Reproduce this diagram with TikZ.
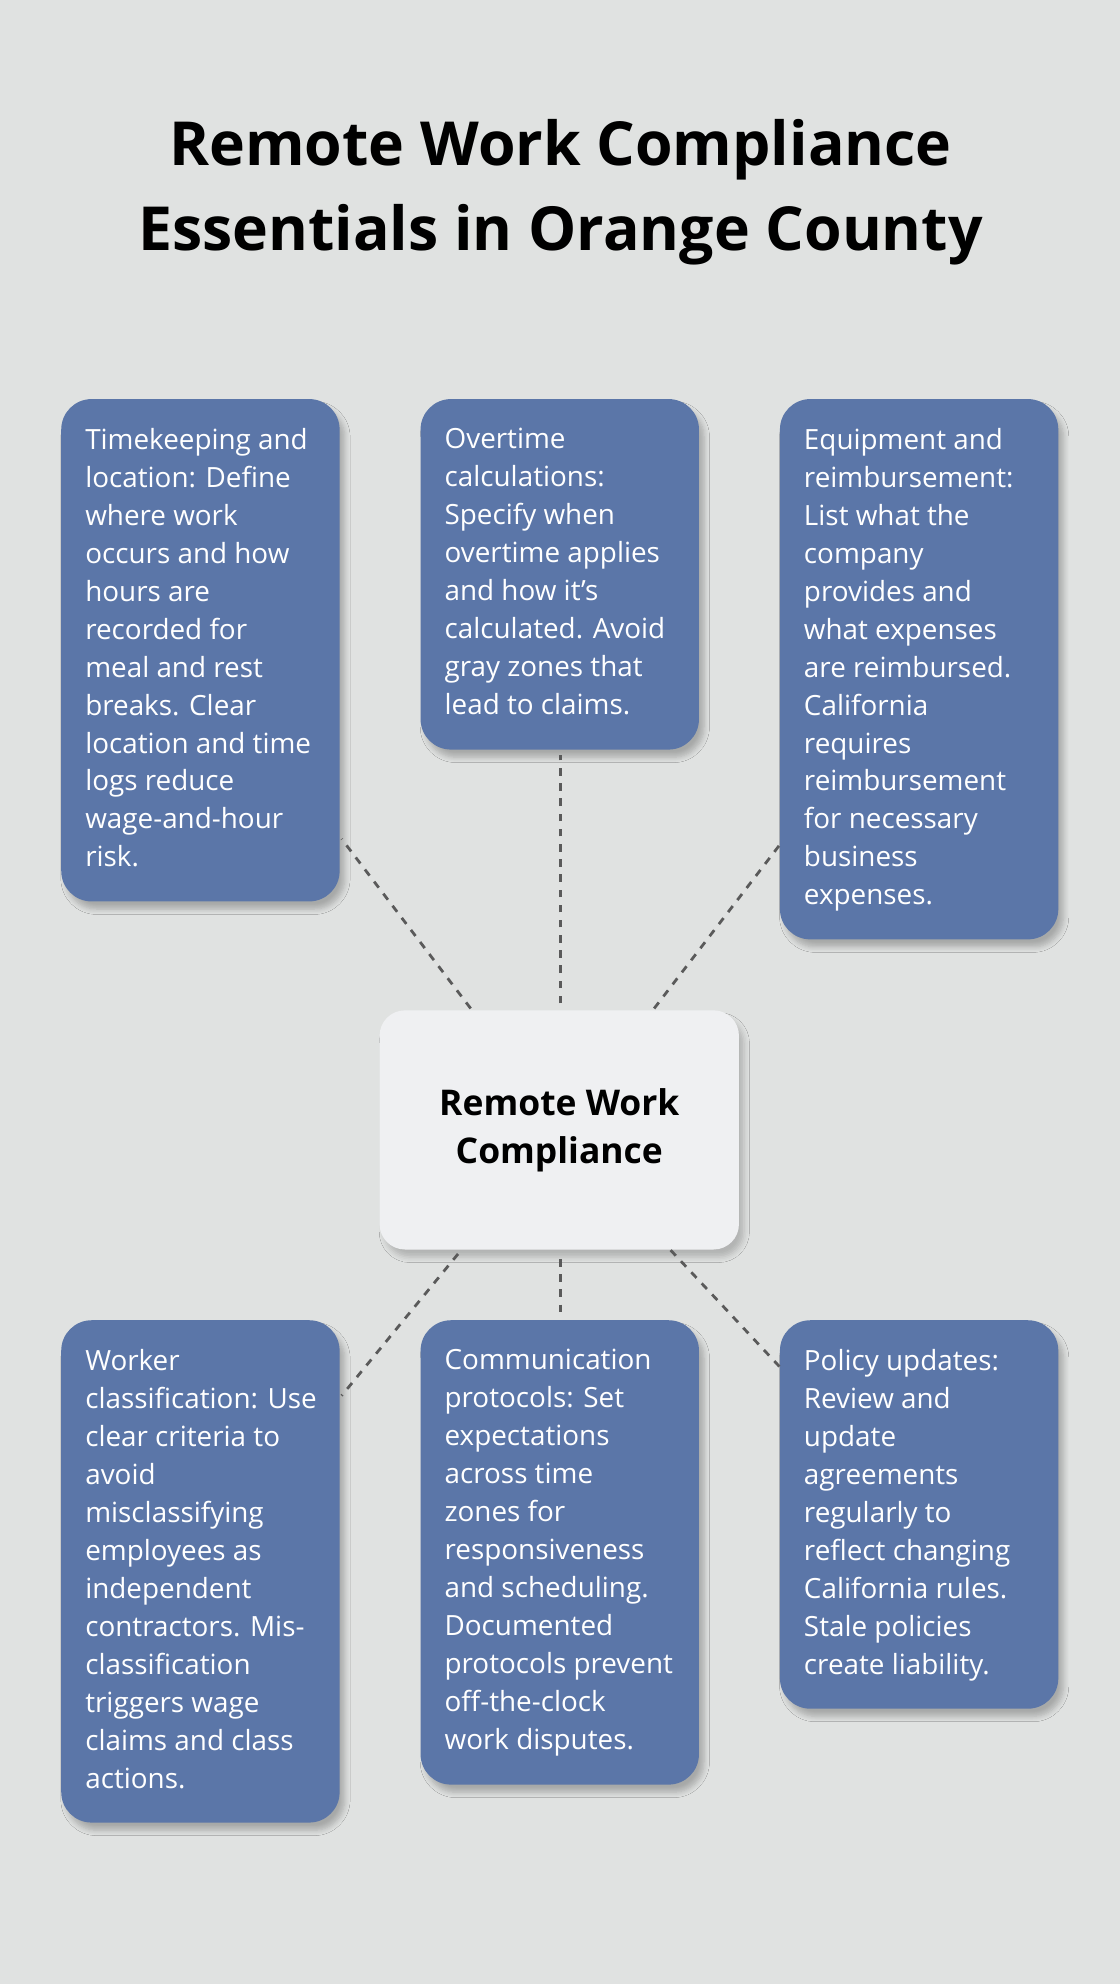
\documentclass[tikz,border=0pt]{standalone}
\usepackage{fontspec}
\setmainfont{Open Sans}
\usetikzlibrary{positioning,shadows.blur}
\definecolor{bgcol}{HTML}{E0E2E1}
\definecolor{boxcol}{HTML}{5B76A8}
\definecolor{hubcol}{HTML}{EFF0F2}
\definecolor{linecol}{HTML}{5A5A5A}
\tikzset{
  card/.style={draw=none,fill=boxcol,rounded corners=12pt,inner sep=0pt,
    minimum width=110pt,blur shadow={shadow xshift=2pt,shadow yshift=-3pt,shadow opacity=25,shadow blur steps=6}},
  cardtext/.style={anchor=north west,inner sep=0pt,text=white,align=left,
    font=\fontsize{11}{15}\selectfont},
  link/.style={draw=linecol,line width=1.1pt,dash pattern=on 3pt off 3pt}
}
\begin{document}
\begin{tikzpicture}[x=0.5pt,y=-0.5pt]
  \fill[bgcol] (0,0) rectangle (885,1568);
  \useasboundingbox (0,0) rectangle (885,1568);
  % title
  \node[font=\fontsize{24}{33.5}\selectfont\bfseries,align=center] (title) at (443,152)
    {Remote Work Compliance\\Essentials in Orange County};
  % hub
  \node[fill=hubcol,rounded corners=10pt,minimum width=142pt,minimum height=94.5pt,
    font=\fontsize{14}{19}\selectfont\bfseries,align=center,
    blur shadow={shadow xshift=2pt,shadow yshift=-3pt,shadow opacity=20}] (hub) at (442,893)
    {Remote Work\\Compliance};
  % top cards
  \node[card,minimum height=198.5pt,anchor=north west] (time) at (48,315) {};
  \node[cardtext] (timetxt) at (67,338) {Timekeeping and\\location: Define\\where work\\occurs and how\\hours are\\recorded for\\meal and rest\\breaks. Clear\\location and time\\logs reduce\\wage-and-hour\\risk.};
  \node[card,minimum height=138.5pt,anchor=north west] (over) at (332,315) {};
  \node[cardtext] (overtxt) at (351,338) {Overtime\\calculations:\\Specify when\\overtime applies\\and how it’s\\calculated. Avoid\\gray zones that\\lead to claims.};
  \node[card,minimum height=213.5pt,anchor=north west] (equip) at (616,315) {};
  \node[cardtext] (equiptxt) at (635,338) {Equipment and\\reimbursement:\\List what the\\company\\provides and\\what expenses\\are reimbursed.\\California\\requires\\reimbursement\\for necessary\\business\\expenses.};
  % bottom cards
  \node[card,minimum height=198.5pt,anchor=north west] (worker) at (48,1043) {};
  \node[cardtext] (workertxt) at (67,1066) {Worker\\classification: Use\\clear criteria to\\avoid\\misclassifying\\employees as\\independent\\contractors. Mis-\\classification\\triggers wage\\claims and class\\actions.};
  \node[card,minimum height=183.5pt,anchor=north west] (comm) at (332,1043) {};
  \node[cardtext] (commtxt) at (351,1066) {Communication\\protocols: Set\\expectations\\across time\\zones for\\responsiveness\\and scheduling.\\Documented\\protocols prevent\\off-the-clock\\work disputes.};
  \node[card,minimum height=153.5pt,anchor=north west] (policy) at (616,1043) {};
  \node[cardtext] (policytxt) at (635,1066) {Policy updates:\\Review and\\update\\agreements\\regularly to\\reflect changing\\California rules.\\Stale policies\\create liability.};
  % connector ends
  \coordinate (h1) at (372,797); \coordinate (e1) at (270,663);
  \coordinate (h2) at (443,793); \coordinate (e2) at (443,597);
  \coordinate (h3) at (517,797); \coordinate (e3) at (616,668);
  \coordinate (h4) at (362,991); \coordinate (e4) at (270,1103);
  \coordinate (h5) at (443,995); \coordinate (e5) at (443,1038);
  \coordinate (h6) at (530,988); \coordinate (e6) at (616,1080);
  \foreach \i in {1,...,6} \draw[link] (h\i) -- (e\i);
\end{tikzpicture}
\end{document}
